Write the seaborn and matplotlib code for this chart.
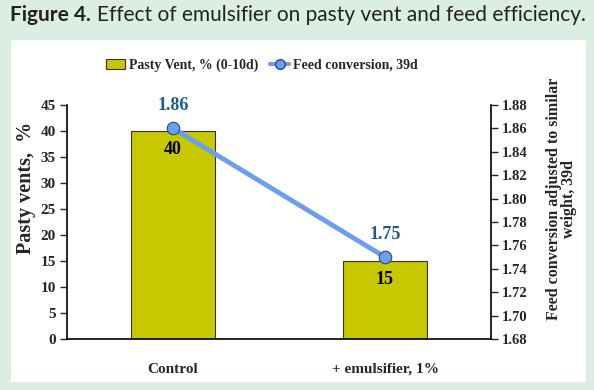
import matplotlib
matplotlib.use("Agg")
import matplotlib.pyplot as plt
import matplotlib.patches as mpatches
import numpy as np
import pandas as pd
import seaborn as sns

groups = ["Control", "+ emulsifier, 1%"]
pasty_vent = [40, 15]
feed_conv = [1.86, 1.75]
left_ticks = [0, 5, 10, 15, 20, 25, 30, 35, 40, 45]
right_ticks = [1.68, 1.70, 1.72, 1.74, 1.76, 1.78, 1.80, 1.82, 1.84, 1.86, 1.88]

sns.set_style("white")
plt.rcParams['font.family'] = ['Liberation Serif', 'DejaVu Serif']

bg = "#dcede3"
bar_col = "#c8c800"
line_col = "#6d9eeb"
lab_col = "#1f5a85"
serif = "Liberation Serif"

fig = plt.figure(figsize=(5.94, 3.90), dpi=100, facecolor=bg)
# white panel behind the chart
fig.patches.append(mpatches.Rectangle((11 / 594, 1 - 382 / 390), 575 / 594, 342 / 390,
                                      transform=fig.transFigure, facecolor="white",
                                      edgecolor="none", zorder=-5))

# title: bold "Figure 4." then plain text, scaled to fit 10..586 px
title_size = 15.5
t1 = fig.text(10 / 594, 1 - 15 / 390, "Figure 4.", fontsize=title_size, fontweight="bold",
              family="Lato", color="#222222", va="center")
t2 = fig.text(0, 1 - 15 / 390, "Effect of emulsifier on pasty vent and feed efficiency.",
              fontsize=title_size, family="Lato", color="#222222", va="center")
fig.canvas.draw()
w = t1.get_window_extent().width + 6 + t2.get_window_extent().width
title_size = title_size * 576 / w
t1.set_fontsize(title_size)
t2.set_fontsize(title_size)
fig.canvas.draw()
t2.set_x((t1.get_window_extent().x1 + 6) / 594)

ax = fig.add_axes([67 / 594, 1 - 339 / 390, 424 / 594, 234 / 390])
ax.set_facecolor("none")
df = pd.DataFrame({"group": groups, "pv": pasty_vent})
sns.barplot(data=df, x="group", y="pv", ax=ax, color=bar_col, width=0.4,
            edgecolor="#333333", linewidth=0.8, saturation=1)
ax.set_xlim(-0.5, 1.5)
ax.set_ylim(0, 45)
ax.set_yticks(left_ticks)
ax.set_yticklabels([str(t) for t in left_ticks], fontsize=11, fontweight="bold")
ax.set_xticks([0, 1])
ax.set_xticklabels(groups, fontsize=11, fontweight="bold")
ax.set_xticks([-0.5, 0.5, 1.5], minor=True)
ax.tick_params(axis="x", which="major", length=0, pad=17)
ax.tick_params(axis="x", which="minor", length=5, width=1, direction="out")
ax.tick_params(axis="y", length=5, width=1, direction="out", left=True, pad=3)
ax.set_xlabel("")
ax.set_ylabel("Pasty vents,  %", fontsize=14.5, fontweight="bold")
ax.yaxis.set_label_coords(-0.074, 0.645)
for s in ["top", "right"]:
    ax.spines[s].set_visible(False)
for s in ["left", "bottom"]:
    ax.spines[s].set_color("black")
    ax.spines[s].set_linewidth(1.2)
for i, v in enumerate(pasty_vent):
    ax.annotate(str(v), (i, v), xytext=(0, -18), textcoords="offset pixels",
                ha="center", va="center", fontsize=13, fontweight="bold", color="black")

ax2 = ax.twinx()
x_pos = np.arange(len(groups))
sns.lineplot(x=x_pos, y=feed_conv, ax=ax2, color=line_col, linewidth=3.5,
             marker="o", markersize=9, markerfacecolor=line_col,
             markeredgecolor="#2a4a7a", markeredgewidth=0.8)
ax2.set_ylim(1.68, 1.88)
ax2.set_yticks(right_ticks)
ax2.set_yticklabels(["%.2f" % t for t in right_ticks], fontsize=10.5, fontweight="bold")
ax2.tick_params(axis="y", length=5, width=1, direction="out", right=True, pad=3)
ax2.set_ylabel("Feed conversion adjusted to similar\nweight, 39d", fontsize=11.5,
               fontweight="bold", linespacing=0.9)
ax2.yaxis.set_label_coords(1.13, 0.6)
for s in ["top", "left", "bottom"]:
    ax2.spines[s].set_visible(False)
ax2.spines["right"].set_color("black")
ax2.spines["right"].set_linewidth(1.2)
for i, v in enumerate(feed_conv):
    ax2.annotate("%.2f" % v, (i, v), xytext=(0, 23), textcoords="offset pixels",
                 ha="center", va="center", fontsize=13, fontweight="bold", color=lab_col)

handles = [mpatches.Patch(facecolor=bar_col, edgecolor="#333333", linewidth=0.8),
           plt.Line2D([], [], color=line_col, linewidth=3, marker="o", markersize=7,
                      markerfacecolor=line_col, markeredgecolor="#2a4a7a")]
fig.legend(handles, ["Pasty Vent, % (0-10d)", "Feed conversion, 39d"],
           loc="center", bbox_to_anchor=(262 / 594, 1 - 65 / 390), ncol=2,
           frameon=False, prop={"family": serif, "weight": "bold", "size": 10},
           handlelength=1.4, handleheight=0.7, columnspacing=0.8, handletextpad=0.3)

fig.savefig("out.png", dpi=100, facecolor=bg)
